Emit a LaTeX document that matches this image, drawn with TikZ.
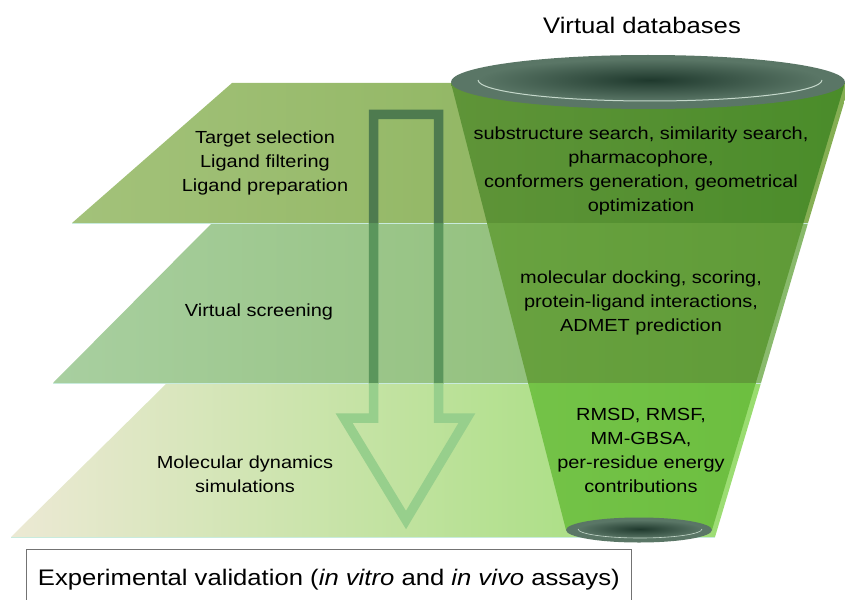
\documentclass[tikz,border=0pt]{standalone}
\usepackage{fontspec}
\setmainfont{Liberation Sans}[FakeStretch=1.14]
\usetikzlibrary{positioning}

\definecolor{layerAl}{HTML}{A3C27A}
\definecolor{layerAr}{HTML}{84AE52}
\definecolor{layerBl}{HTML}{A8CFA0}
\definecolor{layerBr}{HTML}{88B96A}
\definecolor{layerCl}{HTML}{ECE9D4}
\definecolor{layerCm}{HTML}{CDE9B0}
\definecolor{layerCr}{HTML}{98DC6E}
\definecolor{funnelAl}{HTML}{5F9438}
\definecolor{funnelAr}{HTML}{4A8C2A}
\definecolor{funnelBl}{HTML}{6AA341}
\definecolor{funnelBr}{HTML}{5E9A36}
\definecolor{funnelCl}{HTML}{76C44A}
\definecolor{funnelCr}{HTML}{6ABD3D}
\definecolor{arrowA}{HTML}{4E7B4F}
\definecolor{arrowB}{HTML}{5B965C}
\definecolor{arrowC}{HTML}{97CF8C}
\definecolor{rimgray}{HTML}{5A7666}
\definecolor{rimdark}{HTML}{1F392D}
\definecolor{rimlight}{HTML}{C5D8CB}
\definecolor{edgelight}{HTML}{C8EBDD}

\begin{document}
\begin{tikzpicture}[x=1pt, y=-1pt,
                    every node/.append style = {align = center, inner sep = 0pt},
                    layer text/.style = {font = \fontsize{17.5}{24}\selectfont},
                    layer edge/.style = {draw = edgelight, line width = 0.8pt}]
    \useasboundingbox (0,0) rectangle (845,599);

    \shade[left color=layerAl, right color=layerAr] (232,83) -- (850,83) -- (808,223) -- (72,223) -- cycle;
    \shade[left color=layerBl, right color=layerBr] (212,223) -- (808,223) -- (761,383) -- (53,383) -- cycle;
    \shade[left color=layerCl, middle color=layerCm, right color=layerCr] (167,383) -- (761,383) -- (715,537) -- (11,537) -- cycle;
    \draw[layer edge] (72,223) -- (808,223);
    \draw[layer edge] (53,383) -- (761,383);
    \draw[layer edge] (11,537) -- (715,537);

    \foreach \ya/\yb/\col in {83/223/arrowA, 223/383/arrowB, 383/545/arrowC} {
        \begin{scope}
            \clip (300,\ya) rectangle (520,\yb);
            \draw[\col, line width=9.5pt, line join=miter, miter limit=5]
                (373.5,114.5) -- (438.5,114.5) -- (438.5,418) -- (467,418)
                -- (406,520) -- (344,418) -- (373.5,418) -- cycle;
        \end{scope}
    }

    \foreach \ya/\yb/\cl/\cr in {83/223/funnelAl/funnelAr, 223/383/funnelBl/funnelBr, 383/545/funnelCl/funnelCr} {
        \begin{scope}
            \clip (0,\ya) rectangle (845,\yb);
            \shade[left color=\cl, right color=\cr] (451,83) -- (845,83) -- (712,530) -- (566,530) -- cycle;
        \end{scope}
    }

    \fill[rimgray] (648,82) ellipse [x radius=197pt, y radius=27pt];
    \shade[inner color=rimdark, outer color=rimgray] (650,80) ellipse [x radius=172pt, y radius=21pt];
    \draw[rimlight, line width=1pt] (478,80) arc [start angle=180, end angle=360, x radius=172pt, y radius=21pt];
    \fill[rimgray] (639,530) ellipse [x radius=73pt, y radius=12.5pt];
    \shade[inner color=rimdark, outer color=rimgray] (640,529) ellipse [x radius=62pt, y radius=9pt];
    \draw[rimlight, line width=0.6pt] (578,529) arc [start angle=180, end angle=360, x radius=62pt, y radius=9pt];

    \node[font=\fontsize{22.5}{26}\selectfont] (title) at (642,25) {Virtual databases};
    \node[layer text] (prep) at (265,163) {Target selection\\Ligand filtering\\Ligand preparation};
    \node[layer text] (search) at (641,171) {substructure search, similarity search,\\pharmacophore,\\conformers generation, geometrical\\optimization};
    \node[layer text] (vs) at (259,312) {Virtual screening};
    \node[layer text] (dock) at (641,303) {molecular docking, scoring,\\protein-ligand interactions,\\ADMET prediction};
    \node[layer text] (md) at (245,474) {Molecular dynamics\\simulations};
    \node[layer text] (rmsd) at (641,450) {RMSD, RMSF,\\MM-GBSA,\\per-residue energy\\contributions};
    \node[draw=black!55, line width=0.6pt, anchor=north west, minimum width=605pt, minimum height=60pt,
          font=\fontsize{22.5}{27}\selectfont] (valid) at (26,549) {Experimental validation (\textit{in vitro} and \textit{in vivo} assays)};
\end{tikzpicture}
\end{document}
